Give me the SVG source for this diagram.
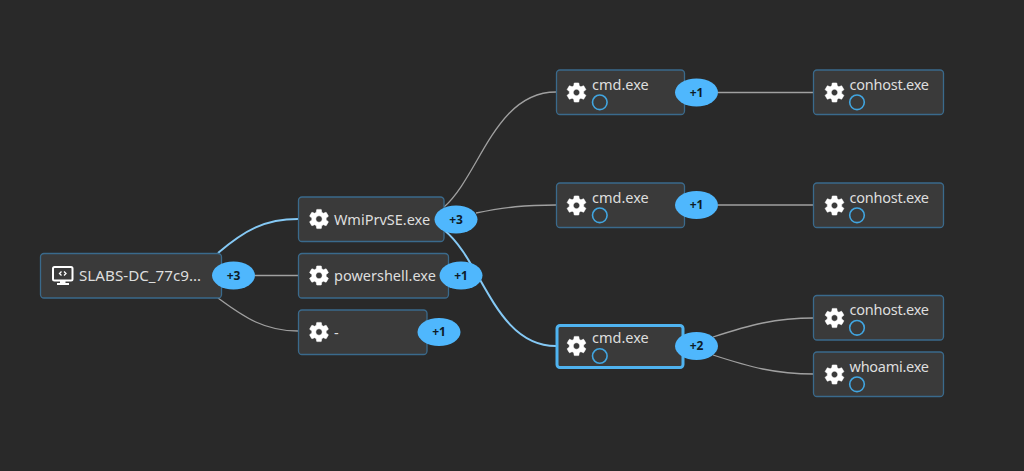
<svg xmlns="http://www.w3.org/2000/svg" width="1024" height="471" viewBox="0 0 1024 471">
<style>
.n{fill:#3a3a3a;stroke:#3a6a8c;stroke-width:1.3}
.s{fill:#3a3a3a;stroke:#4fb3f0;stroke-width:3}
.t{font-family:"Noto Sans","Open Sans",sans-serif;font-size:14.5px;fill:#dedede}
.b{fill:#4fb7fd}
.bt{font-family:"Noto Sans","Open Sans",sans-serif;font-size:12px;font-weight:700;fill:#0e1c28;text-anchor:middle}
.st{fill:none;stroke:#41a5e0;stroke-width:1.6}
.e{fill:none;stroke:#a0a0a0;stroke-width:1.3}
.h{fill:none;stroke:#85c9f5;stroke-width:2}
</style>
<defs>
<path id="gear" fill="#fff" stroke="#fff" stroke-width=".5" d="M19.14 12.94c.04-.3.06-.61.06-.94 0-.32-.02-.64-.07-.94l2.03-1.58c.18-.14.23-.41.12-.61l-1.92-3.32c-.12-.22-.37-.29-.59-.22l-2.39.96c-.5-.38-1.03-.7-1.62-.94l-.36-2.54c-.04-.24-.24-.41-.48-.41h-3.84c-.24 0-.43.17-.47.41l-.36 2.54c-.59.24-1.13.57-1.62.94l-2.39-.96c-.22-.08-.47 0-.59.22L2.74 8.87c-.12.21-.08.47.12.61l2.03 1.58c-.05.3-.09.63-.09.94s.02.64.07.94l-2.03 1.58c-.18.14-.23.41-.12.61l1.92 3.32c.12.22.37.29.59.22l2.39-.96c.5.38 1.03.7 1.62.94l.36 2.54c.05.24.24.41.48.41h3.84c.24 0 .44-.17.47-.41l.36-2.54c.59-.24 1.13-.56 1.62-.94l2.39.96c.22.08.47 0 .59-.22l1.92-3.32c.12-.22.07-.47-.12-.61l-2.01-1.58zM12 15.2c-1.77 0-3.2-1.43-3.2-3.2s1.43-3.2 3.2-3.2 3.2 1.43 3.2 3.2-1.43 3.2-3.2 3.2z"/>
</defs>
<rect width="1024" height="471" fill="#292929"/>
<g id="connectors">
<path class="h" d="M218 253C245 230 265 219 298 219"/>
<path class="e" d="M218 298C245 318 265 331 298 331"/>
<path class="e" d="M255 275.500H298"/>
<path class="e" d="M444 207C480 175 495 92 556 92"/>
<path class="e" d="M476 213C505 207 525 205 556 205"/>
<path class="h" d="M444 230C482 260 495 346 556 346"/>
<path class="e" d="M718 92.500H814"/>
<path class="e" d="M718 205H814"/>
<path class="e" d="M713 337C750 325 775 318 814 318"/>
<path class="e" d="M713 355C750 367 775 374 814 374"/>
</g>
<g id="root">
<rect class="n" x="40.500" y="253.500" width="181" height="44.500" rx="3.500"/>
<rect x="53" y="267" width="19.500" height="13.500" rx="1.500" fill="none" stroke="#fff" stroke-width="2"/>
<path fill="#fff" d="M60 281h5.500v2h-5.500zM57 283h12v2h-12z"/>
<path fill="none" stroke="#fff" stroke-width="1.300" d="M61.500 271.500l-2 2 2 2M64 271.500l2 2-2 2"/>
<text class="t" x="79" y="281" textLength="122" lengthAdjust="spacingAndGlyphs">SLABS-DC_77c9…</text>
<ellipse class="b" cx="233.500" cy="275.500" rx="21.500" ry="14"/>
<text class="bt" x="233.500" y="279.800">+3</text>
</g>
<g id="wmiprvse">
<rect class="n" x="298.500" y="197" width="145.500" height="44.500" rx="3.500"/>
<use href="#gear" x="307" y="207"/>
<text class="t" x="334" y="225">WmiPrvSE.exe</text>
<ellipse class="b" cx="456" cy="219.500" rx="21.500" ry="14"/>
<text class="bt" x="456" y="223.800">+3</text>
</g>
<g id="powershell">
<rect class="n" x="298.500" y="253.500" width="150" height="44.500" rx="3.500"/>
<use href="#gear" x="307" y="263.500"/>
<text class="t" x="334" y="281">powershell.exe</text>
<ellipse class="b" cx="461" cy="275.500" rx="21.500" ry="14"/>
<text class="bt" x="461" y="279.800">+1</text>
</g>
<g id="dash">
<rect class="n" x="298.500" y="310" width="128.500" height="44.500" rx="3.500"/>
<use href="#gear" x="307" y="320"/>
<text class="t" x="334" y="338">-</text>
<ellipse class="b" cx="439" cy="332" rx="21.500" ry="14"/>
<text class="bt" x="439" y="336.300">+1</text>
</g>
<g id="cmd1">
<rect class="n" x="556.500" y="70" width="128" height="44.500" rx="3.500"/>
<use href="#gear" x="564.500" y="80.500"/>
<text class="t" x="592" y="89.500">cmd.exe</text>
<circle class="st" cx="599.800" cy="102.300" r="7.300"/>
<ellipse class="b" cx="696.500" cy="92.500" rx="21.500" ry="14"/>
<text class="bt" x="696.500" y="96.800">+1</text>
</g>
<g id="cmd2">
<rect class="n" x="556.500" y="183" width="128" height="44.500" rx="3.500"/>
<use href="#gear" x="564.500" y="193.500"/>
<text class="t" x="592" y="202.500">cmd.exe</text>
<circle class="st" cx="599.800" cy="215.300" r="7.300"/>
<ellipse class="b" cx="696.500" cy="205" rx="21.500" ry="14"/>
<text class="bt" x="696.500" y="209.300">+1</text>
</g>
<g id="cmd3">
<rect class="s" x="557" y="325.500" width="126" height="42" rx="3"/>
<use href="#gear" x="564.500" y="334"/>
<text class="t" x="592" y="343">cmd.exe</text>
<circle class="st" cx="599.800" cy="356" r="7.300"/>
<ellipse class="b" cx="696.500" cy="346" rx="21.500" ry="14"/>
<text class="bt" x="696.500" y="350.300">+2</text>
</g>
<g id="conhost1">
<rect class="n" x="813.500" y="70" width="130" height="44.500" rx="3.500"/>
<use href="#gear" x="822.500" y="80.500"/>
<text class="t" x="849.500" y="89.500" textLength="79.500">conhost.exe</text>
<circle class="st" cx="857" cy="102.300" r="7.300"/>
</g>
<g id="conhost2">
<rect class="n" x="813.500" y="183" width="130" height="44.500" rx="3.500"/>
<use href="#gear" x="822.500" y="193.500"/>
<text class="t" x="849.500" y="202.500" textLength="79.500">conhost.exe</text>
<circle class="st" cx="857" cy="215.300" r="7.300"/>
</g>
<g id="conhost3">
<rect class="n" x="813.500" y="295.500" width="130" height="44.500" rx="3.500"/>
<use href="#gear" x="822.500" y="306"/>
<text class="t" x="849.500" y="315" textLength="79.500">conhost.exe</text>
<circle class="st" cx="857" cy="327.800" r="7.300"/>
</g>
<g id="whoami">
<rect class="n" x="813.500" y="352" width="130" height="44.500" rx="3.500"/>
<use href="#gear" x="822.500" y="362.500"/>
<text class="t" x="849.500" y="371.500" textLength="79.500">whoami.exe</text>
<circle class="st" cx="857" cy="384.300" r="7.300"/>
</g>
</svg>
